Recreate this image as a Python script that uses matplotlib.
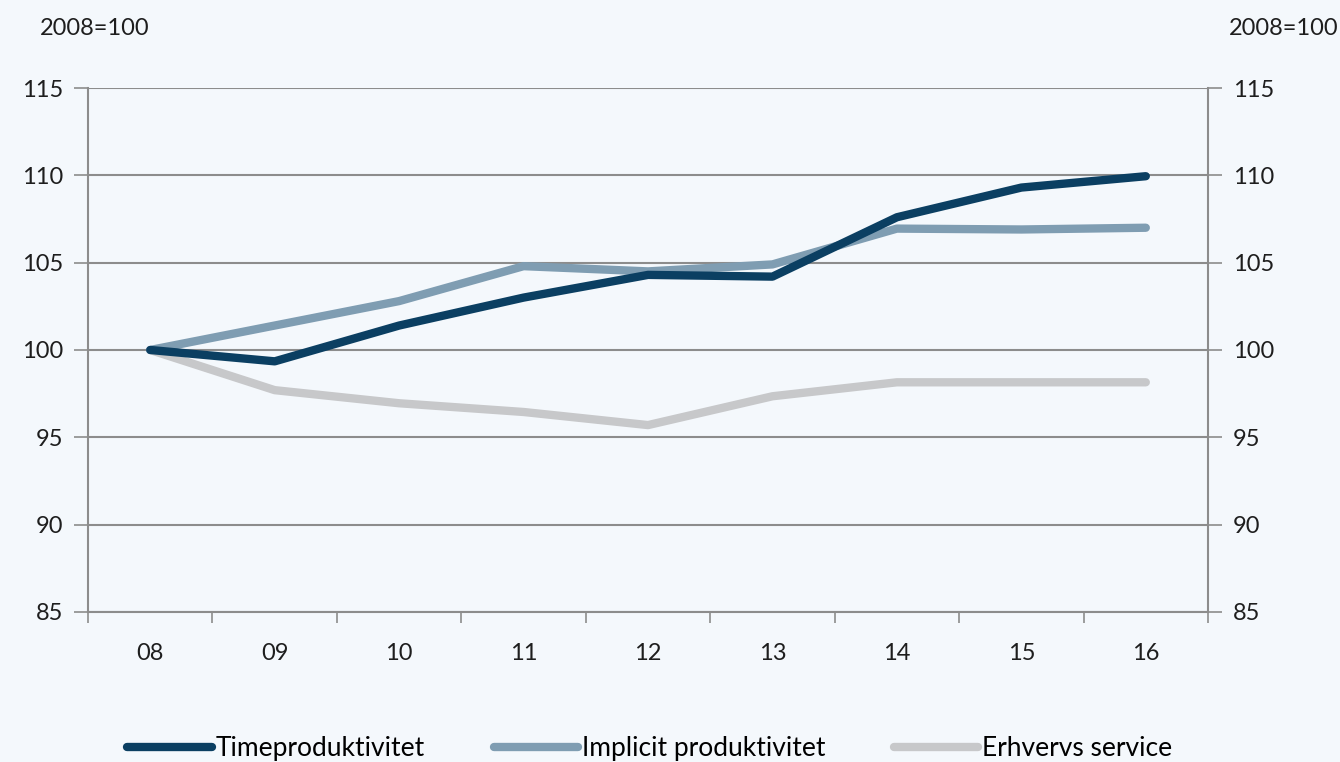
import matplotlib.pyplot as plt
import numpy as np

plt.rcParams['font.family'] = ['Lato', 'DejaVu Sans']

years = ['08', '09', '10', '11', '12', '13', '14', '15', '16']
timeprod = [100.0, 99.35, 101.4, 103.0, 104.3, 104.2, 107.6, 109.3, 109.95]
implicit = [100.0, 101.4, 102.8, 104.8, 104.5, 104.9, 106.95, 106.9, 107.0]
erhverv = [100.0, 97.7, 96.95, 96.45, 95.7, 97.35, 98.15, 98.15, 98.15]

bg = '#f4f8fc'
grid_c = '#8c8c8c'
txt_c = '#1e1e1e'

fig = plt.figure(figsize=(13.4, 7.62), dpi=100, facecolor=bg)
ax = fig.add_axes([0.0657, 0.1969, 0.8358, 0.6876], facecolor=bg)

x = np.arange(len(years))
ax.plot(x, erhverv, color='#c7c8ca', lw=6, solid_capstyle='round', label='Erhvervs service', zorder=3)
ax.plot(x, implicit, color='#7f9db2', lw=6, solid_capstyle='round', label='Implicit produktivitet', zorder=4)
ax.plot(x, timeprod, color='#0b3f62', lw=6, solid_capstyle='round', label='Timeproduktivitet', zorder=5)

ax.set_xlim(-0.5, len(years) - 0.5)
ax.set_ylim(85, 115)
ax.set_yticks(range(85, 116, 5))
ax.yaxis.grid(True, color=grid_c, lw=1.5)
ax.set_axisbelow(True)

ax.set_xticks(x)
ax.set_xticklabels(years)
ax.set_xticks(np.arange(-0.5, len(years)), minor=True)
ax.tick_params(axis='x', which='major', length=0, pad=22, labelsize=17, colors=txt_c)
ax.tick_params(axis='x', which='minor', length=8, width=1.2, color=grid_c, direction='out')
ax.tick_params(axis='y', length=10, width=1.2, color=grid_c, labelsize=17, colors=txt_c,
               left=True, right=True, labelleft=True, labelright=True, pad=8)
for s in ax.spines.values():
    s.set_color(grid_c)
    s.set_linewidth(1.5)
ax.spines['top'].set_visible(False)

fig.text(0.03, 0.962, '2008=100', fontsize=17, color=txt_c, va='center')
fig.text(0.999, 0.962, '2008=100', fontsize=17, color=txt_c, va='center', ha='right')

h, l = ax.get_legend_handles_labels()
order = [2, 1, 0]
fig.legend([h[i] for i in order], [l[i] for i in order], loc='center', ncol=3,
           bbox_to_anchor=(0.485, 0.018), frameon=False, fontsize=19,
           handlelength=3.2, handletextpad=0.15, columnspacing=2.6)

fig.savefig('out.png', dpi=100, facecolor=bg)
